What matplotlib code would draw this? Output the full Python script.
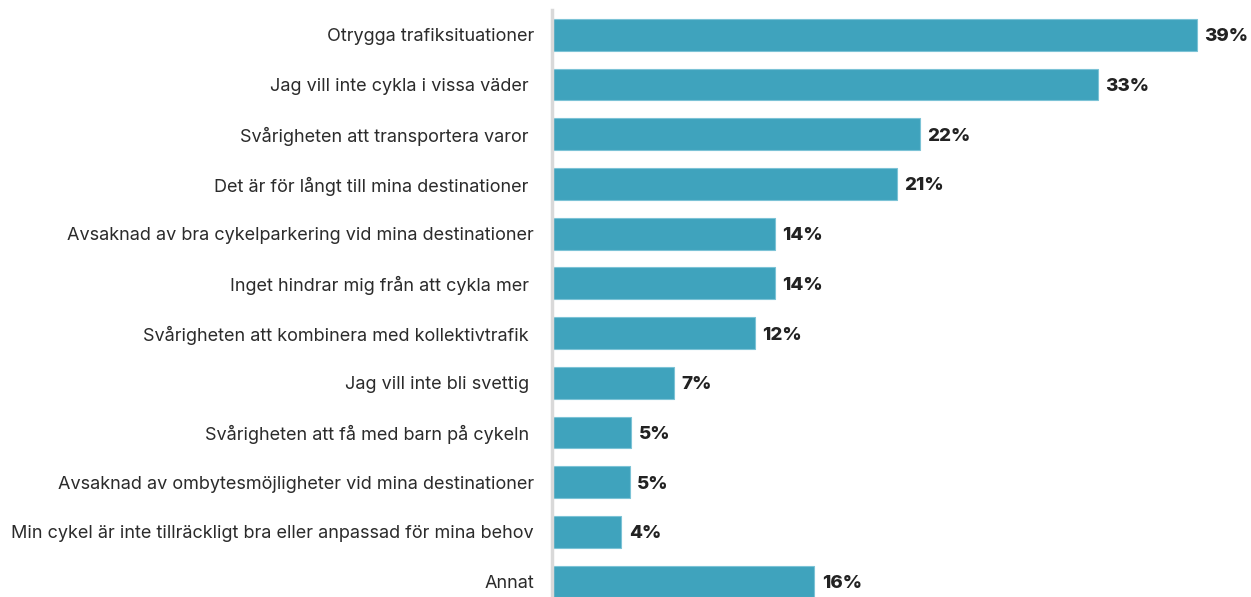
import matplotlib
matplotlib.use("Agg")
import matplotlib.pyplot as plt

labels = [
    "Otrygga trafiksituationer",
    "Jag vill inte cykla i vissa väder ",
    "Svårigheten att transportera varor ",
    "Det är för långt till mina destinationer ",
    "Avsaknad av bra cykelparkering vid mina destinationer",
    "Inget hindrar mig från att cykla mer ",
    "Svårigheten att kombinera med kollektivtrafik ",
    "Jag vill inte bli svettig ",
    "Svårigheten att få med barn på cykeln ",
    "Avsaknad av ombytesmöjligheter vid mina destinationer",
    "Min cykel är inte tillräckligt bra eller anpassad för mina behov",
    "Annat",
]
values = [39.1, 33.1, 22.3, 20.9, 13.5, 13.5, 12.3, 7.4, 4.8, 4.7, 4.2, 15.9]
value_labels = ["39%", "33%", "22%", "21%", "14%", "14%", "12%", "7%", "5%", "5%", "4%", "16%"]

plt.rcParams['font.family'] = ['Inter', 'DejaVu Sans']

fig = plt.figure(figsize=(12.51, 5.97), dpi=100)
ax = fig.add_axes([552 / 1251, 0, 1 - 552 / 1251, 1 - 10 / 597])

ypos = list(range(len(labels)))
ax.barh(ypos, values, height=0.64, color="#3fa3bd", edgecolor="#7cc3d6", linewidth=0.8)

for y, v, t in zip(ypos, values, value_labels):
    ax.text(v + 0.45, y + 0.04, t, va="center", ha="left", fontsize=13.5,
            fontweight="heavy", color="#222222")

ax.set_yticks(ypos)
ax.set_yticklabels(labels, fontsize=13, color="#2b2b2b")
ax.tick_params(axis="y", length=0, pad=13)
ax.set_xticks([])
ax.set_xlim(0, 699 / 16.5)
ax.set_ylim(11.31, -0.5)

for s in ["top", "right", "bottom"]:
    ax.spines[s].set_visible(False)
ax.spines["left"].set_color("#d9d9d9")
ax.spines["left"].set_linewidth(2.5)

fig.savefig("out.png", dpi=100)
